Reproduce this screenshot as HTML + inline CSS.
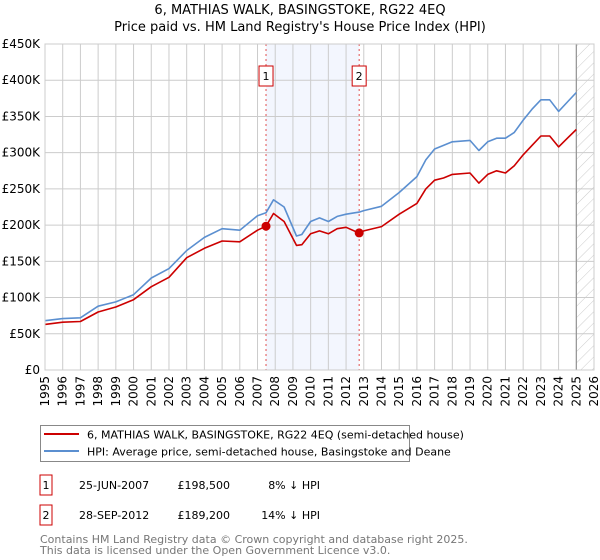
<!DOCTYPE html>
<html><head><meta charset="utf-8"><style>
body{margin:0;background:#fff;}
svg{font-family:"DejaVu Sans","Liberation Sans",sans-serif;display:block}
</style></head><body>
<svg id="c" width="600" height="560" viewBox="0 0 600 560">
<text x="300" y="14" font-size="13" text-anchor="middle" fill="#000">6, MATHIAS WALK, BASINGSTOKE, RG22 4EQ</text>
<text x="300" y="31" font-size="13" text-anchor="middle" fill="#000">Price paid vs. HM Land Registry's House Price Index (HPI)</text>
<g id="plot"></g>
<rect x="40.5" y="425.5" width="369" height="36" fill="none" stroke="#888"/>
<line x1="44" y1="434" x2="79" y2="434" stroke="#cc0000" stroke-width="2"/>
<text x="87" y="438.5" font-size="11">6, MATHIAS WALK, BASINGSTOKE, RG22 4EQ (semi-detached house)</text>
<line x1="44" y1="451" x2="79" y2="451" stroke="#5b8fd0" stroke-width="2"/>
<text x="87" y="455.5" font-size="11">HPI: Average price, semi-detached house, Basingstoke and Deane</text>
<g>
<rect x="40" y="475" width="12" height="20" fill="#fff" stroke="#cc0000"/>
<text x="46" y="489" font-size="11" text-anchor="middle">1</text>
<text x="79" y="489" font-size="11">25-JUN-2007</text>
<text x="230" y="489" font-size="11" text-anchor="end">£198,500</text>
<text x="320" y="489" font-size="11" text-anchor="end">8% ↓ HPI</text>
</g>
<g>
<rect x="40" y="505" width="12" height="20" fill="#fff" stroke="#cc0000"/>
<text x="46" y="519" font-size="11" text-anchor="middle">2</text>
<text x="79" y="519" font-size="11">28-SEP-2012</text>
<text x="230" y="519" font-size="11" text-anchor="end">£189,200</text>
<text x="320" y="519" font-size="11" text-anchor="end">14% ↓ HPI</text>
</g>
<text x="40" y="543" font-size="11" fill="#777">Contains HM Land Registry data © Crown copyright and database right 2025.</text>
<text x="40" y="554" font-size="11" fill="#777">This data is licensed under the Open Government Licence v3.0.</text>
</svg>
<script>
const dates=[1995,1996,1997,1998,1999,2000,2001,2002,2003,2004,2005,2006,2007,2007.48,2007.9,2008.5,2009.2,2009.5,2010,2010.5,2011,2011.5,2012,2012.74,2013,2014,2015,2016,2016.5,2017,2017.5,2018,2019,2019.5,2020,2020.5,2021,2021.5,2022,2022.5,2023,2023.5,2024,2024.5,2025];
const hpiValues=[68,71,72,88,94,104,127,140,165,183,195,193,213,217,235,225,185,187,205,210,205,212,215,218,220,226,245,267,290,305,310,315,317,303,315,320,320,328,345,360,373,373,357,370,383];
const priceValues=[63,66,67,80,87,97,115,128,155,168,178,177,193,198.5,216,205,172,173,188,192,188,195,197,189,192,198,215,230,250,262,265,270,272,258,270,275,272,282,297,310,323,323,308,320,332];
const saleDates=[2007.48,2012.74];
const salePrices=[198.5,189.2];
const saleLabels=["1","2"];
const yTicks=[0,50,100,150,200,250,300,350,400,450];
const yTickLabels=["£0","£50K","£100K","£150K","£200K","£250K","£300K","£350K","£400K","£450K"];
const xTicks=[1995,1996,1997,1998,1999,2000,2001,2002,2003,2004,2005,2006,2007,2008,2009,2010,2011,2012,2013,2014,2015,2016,2017,2018,2019,2020,2021,2022,2023,2024,2025,2026];
const dataEnd=2025.0;

const X0=45,X1=594,Y0=370,Y1=44;
const xs=d=>X0+(d-1995)/(2026-1995)*(X1-X0);
const ys=v=>Y0-v/450*(Y0-Y1);
const NS="http://www.w3.org/2000/svg";
const g=document.getElementById('plot');
function mk(t,a,p){const e=document.createElementNS(NS,t);for(const k in a)e.setAttribute(k,a[k]);(p||g).appendChild(e);return e;}
const defs=mk('defs',{});
const pat=mk('pattern',{id:'hatch',width:8,height:8,patternUnits:'userSpaceOnUse',patternTransform:'rotate(45)'},defs);
mk('line',{x1:0,y1:0,x2:0,y2:8,stroke:'#ccc','stroke-width':1},pat);
let r=mk('rect',{x:xs(saleDates[0]),y:Y1,width:xs(saleDates[1])-xs(saleDates[0]),height:Y0-Y1,fill:'#f3f6fe'});


r=mk('rect',{x:xs(dataEnd),y:Y1,width:X1-xs(dataEnd),height:Y0-Y1,fill:'url(#hatch)'});


xTicks.forEach(t=>{const x=xs(t);
 const l=mk('line',{x1:x,y1:Y1,x2:x,y2:Y0,stroke:'#ccc','stroke-width':1});
 
 
 const tx=mk('text',{x:0,y:0,'font-size':12,'text-anchor':'end',transform:`translate(${x+4},${Y0+6}) rotate(-90)`});
 tx.textContent=t;
 
 
});
yTicks.forEach((t,i)=>{const y=ys(t);
 const l=mk('line',{x1:X0,y1:y,x2:X1,y2:y,stroke:'#ccc','stroke-width':1});
 
 
 const tx=mk('text',{x:X0-5,y:y+4,'font-size':12,'text-anchor':'end'});
 tx.textContent=yTickLabels[i];
 
 
});
let dl=mk('line',{x1:xs(dataEnd),y1:Y1,x2:xs(dataEnd),y2:Y0,stroke:'#888','stroke-width':1});


saleDates.forEach((d,i)=>{const x=xs(d);
 const l=mk('line',{x1:x,y1:Y1,x2:x,y2:Y0,stroke:'#e05050','stroke-width':1,'stroke-dasharray':'2,3'});
 
 
 const b=mk('rect',{x:x-7,y:66,width:14,height:20,fill:'#fff',stroke:'#cc0000'});
 
 
 const t=mk('text',{x:x,y:80,'font-size':11,'text-anchor':'middle'});
 t.textContent=saleLabels[i];
 
 
});
function line(vals,col,name){
 const p=mk('path',{d:vals.map((v,i)=>(i?'L':'M')+xs(dates[i]).toFixed(1)+','+ys(v).toFixed(1)).join(''),fill:'none',stroke:col,'stroke-width':1.6,'stroke-linejoin':'round'});
 
 
}
line(hpiValues,'#5b8fd0','hpi-line');
line(priceValues,'#cc0000','property-price-line');
saleDates.forEach((d,i)=>{
 const c=mk('circle',{cx:xs(d),cy:ys(salePrices[i]),r:4.5,fill:'#cc0000'});
 
 
});
const fr=mk('rect',{x:X0,y:Y1,width:X1-X0,height:Y0-Y1,fill:'none',stroke:'#ccc'});


</script>
</body></html>
